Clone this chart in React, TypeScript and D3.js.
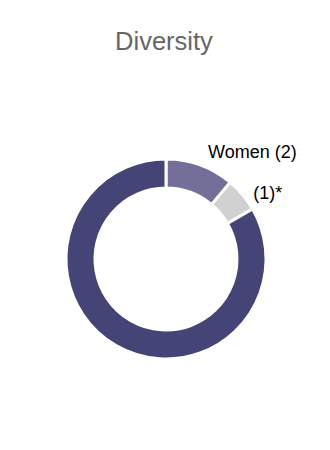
import React from "react";
import * as d3 from "d3";

const categories = ["Women", "Other", "Men"];
const values = [2, 1, 15];
const labels = ["Women (2)", "(1)*", ""];
const colors = ["#736f98", "#d1d1d1", "#444576"];
const labelNudge = [[3, 1], [0, 9], [0, 0]];

export default function App() {
  const width = 330;
  const height = 450;
  const cx = 166;
  const cy = 259;
  const outerR = 100;
  const innerR = 71;
  const pie = d3.pie<number>().sort(null).value((d) => d)(values);
  const arc = d3.arc<d3.PieArcDatum<number>>().innerRadius(innerR).outerRadius(outerR);
  const labelArc = d3.arc<d3.PieArcDatum<number>>().innerRadius(outerR + 14).outerRadius(outerR + 14);
  return (
    <svg width={width} height={height} style={{ position: "absolute", left: 0, top: 0 }}>
      <rect width={width} height={height} fill="#ffffff" />
      <text x={164} y={50} textAnchor="middle" fontFamily="Liberation Sans, Arial, sans-serif" fontSize={25.5} fill="#666666">
        Diversity
      </text>
      <g transform={`translate(${cx},${cy})`}>
        {pie.map((p, i) => (
          <path key={categories[i]} d={arc(p) || ""} fill={colors[i]} stroke="#ffffff" strokeWidth={3} />
        ))}
        {pie.map((p, i) => {
          if (!labels[i]) return null;
          const [x, y] = labelArc.centroid(p);
          return (
            <text key={"l" + i} x={x + labelNudge[i][0]} y={y + labelNudge[i][1]} textAnchor="start" dominantBaseline="middle"
              fontFamily="Liberation Sans, Arial, sans-serif" fontSize={18} fill="#000000">
              {labels[i]}
            </text>
          );
        })}
      </g>
    </svg>
  );
}
